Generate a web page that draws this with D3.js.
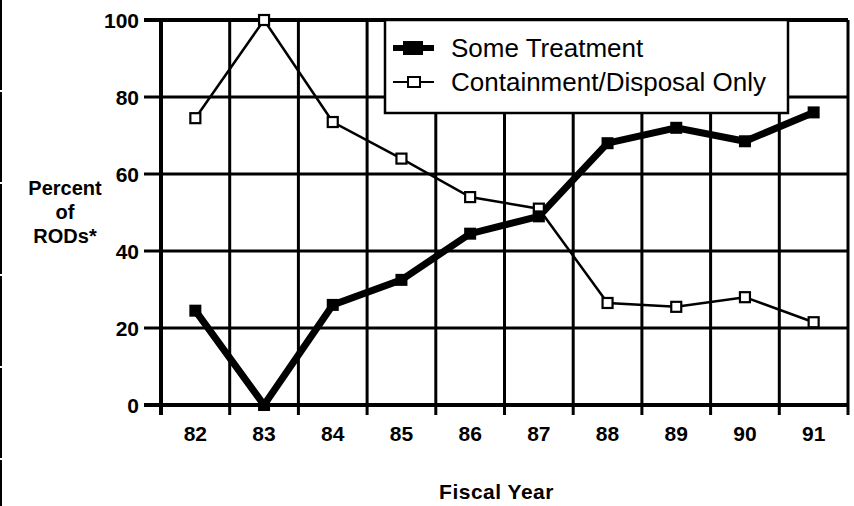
<!DOCTYPE html>
<html>
<head>
<meta charset="utf-8">
<script src="https://cdn.jsdelivr.net/npm/d3@7"></script>
<style>
  body { margin: 0; background: #fff; }
  svg { display: block; font-family: "Liberation Sans", Arial, Helvetica, sans-serif; }
</style>
</head>
<body>
<div id="chart"></div>
<script>
const years = ['82', '83', '84', '85', '86', '87', '88', '89', '90', '91'];
const someTreatment = [24.5, 0, 26, 32.5, 44.5, 49, 68, 72, 68.5, 76];
const containmentOnly = [74.5, 100, 73.5, 64, 54, 51, 26.5, 25.5, 28, 21.5];
const yTicks = [0, 20, 40, 60, 80, 100];
const seriesNames = ['Some Treatment', 'Containment/Disposal Only'];

(() => {
    const W = 854, H = 506;
    const left = 161, right = 848, top = 20, bottom = 405;

    let svg = d3.select('#chart')
        .append('svg')
        .attr('width', W)
        .attr('height', H);

    let x = d3.scaleBand()
        .domain(years)
        .range([left, right]);
    let y = d3.scaleLinear()
        .domain([0, 100])
        .range([bottom, top]);
    let cx = d => x(d) + x.bandwidth() / 2;

    // scan edge on the left
    svg.append('line')
        .attr('x1', 1).attr('x2', 1)
        .attr('y1', 0).attr('y2', H)
        .attr('stroke', '#000')
        .attr('stroke-width', 2)
        .attr('stroke-dasharray', '90 2');

    // grid: vertical lines at band edges, horizontal at y ticks
    let edges = years.map(d => x(d)).concat([right]);
    svg.append('g')
        .selectAll('line')
        .data(edges)
        .enter()
        .append('line')
        .attr('x1', d => d).attr('x2', d => d)
        .attr('y1', top).attr('y2', bottom + 10)
        .attr('stroke', '#000')
        .attr('stroke-width', (d, i) => i === 0 ? 4 : 3);

    svg.append('g')
        .selectAll('line')
        .data(yTicks)
        .enter()
        .append('line')
        .attr('x1', left - 17).attr('x2', right)
        .attr('y1', d => y(d)).attr('y2', d => y(d))
        .attr('stroke', '#000')
        .attr('stroke-width', d => (d === 0 || d === 100) ? 4 : 3);

    // y tick labels
    svg.append('g')
        .selectAll('text')
        .data(yTicks)
        .enter()
        .append('text')
        .attr('x', 139)
        .attr('y', d => y(d))
        .attr('dy', '0.36em')
        .attr('text-anchor', 'end')
        .attr('font-size', 21)
        .attr('font-weight', 'bold')
        .text(d => d);

    // x tick labels
    svg.append('g')
        .selectAll('text')
        .data(years)
        .enter()
        .append('text')
        .attr('x', cx)
        .attr('y', 433)
        .attr('dy', '0.36em')
        .attr('text-anchor', 'middle')
        .attr('font-size', 21)
        .attr('font-weight', 'bold')
        .text(d => d);

    // axis titles
    svg.append('text')
        .attr('x', 65)
        .attr('text-anchor', 'middle')
        .attr('font-size', 20)
        .attr('font-weight', 'bold')
        .selectAll('tspan')
        .data(['Percent', 'of', 'RODs*'])
        .enter()
        .append('tspan')
        .attr('x', 65)
        .attr('y', (d, i) => 195 + i * 24)
        .text(d => d);

    svg.append('text')
        .attr('x', (left + right) / 2 - 8)
        .attr('y', 499)
        .attr('text-anchor', 'middle')
        .attr('font-size', 21)
        .attr('font-weight', 'bold')
        .attr('letter-spacing', 0.5)
        .text('Fiscal Year');

    // series lines
    let line = d3.line()
        .x((d, i) => cx(years[i]))
        .y(d => y(d));

    svg.append('path')
        .datum(containmentOnly)
        .attr('d', line)
        .attr('fill', 'none')
        .attr('stroke', '#000')
        .attr('stroke-width', 2.5);

    svg.append('path')
        .datum(someTreatment)
        .attr('d', line)
        .attr('fill', 'none')
        .attr('stroke', '#000')
        .attr('stroke-width', 7)
        .attr('stroke-linejoin', 'miter');

    svg.append('g')
        .selectAll('rect')
        .data(containmentOnly)
        .enter()
        .append('rect')
        .attr('x', (d, i) => cx(years[i]) - 5)
        .attr('y', d => y(d) - 5)
        .attr('width', 10).attr('height', 10)
        .attr('fill', '#fff')
        .attr('stroke', '#000')
        .attr('stroke-width', 2.2);

    svg.append('g')
        .selectAll('rect')
        .data(someTreatment)
        .enter()
        .append('rect')
        .attr('x', (d, i) => cx(years[i]) - 6)
        .attr('y', d => y(d) - 6)
        .attr('width', 12).attr('height', 12)
        .attr('fill', '#000');

    // legend
    let legend = svg.append('g');
    legend.append('rect')
        .attr('x', 385).attr('y', top)
        .attr('width', 403).attr('height', 93)
        .attr('fill', '#fff')
        .attr('stroke', '#000')
        .attr('stroke-width', 2.5);

    let rows = legend.selectAll('g')
        .data(seriesNames)
        .enter()
        .append('g')
        .attr('transform', (d, i) => `translate(0,${48 + i * 34})`);

    rows.append('line')
        .attr('x1', 393).attr('x2', 434)
        .attr('y1', 0).attr('y2', 0)
        .attr('stroke', '#000')
        .attr('stroke-width', (d, i) => i === 0 ? 6 : 2);

    rows.append('rect')
        .attr('x', (d, i) => i === 0 ? 403 : 408)
        .attr('y', (d, i) => i === 0 ? -7 : -5)
        .attr('width', (d, i) => i === 0 ? 20 : 12)
        .attr('height', (d, i) => i === 0 ? 14 : 10)
        .attr('fill', (d, i) => i === 0 ? '#000' : '#fff')
        .attr('stroke', '#000')
        .attr('stroke-width', (d, i) => i === 0 ? 0 : 2);

    rows.append('text')
        .attr('x', 451)
        .attr('y', 0)
        .attr('dy', '0.36em')
        .attr('font-size', 26)
        .text(d => d);
})();
</script>
</body>
</html>
